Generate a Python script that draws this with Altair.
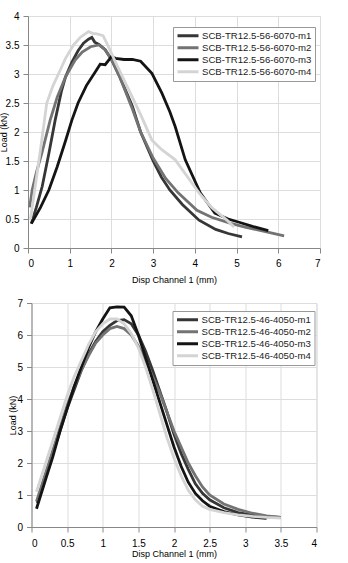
import altair as alt
import pandas as pd

# ---------- top panel (SCB-TR12.5-56-6070) ----------
top_names = ["SCB-TR12.5-56-6070-m1", "SCB-TR12.5-56-6070-m2",
             "SCB-TR12.5-56-6070-m3", "SCB-TR12.5-56-6070-m4"]
t1_x = [0.08, 0.2, 0.34, 0.5, 0.65, 0.8, 0.9, 1.05, 1.2, 1.33, 1.45, 1.53, 1.6, 1.7, 1.85,
        2.0, 2.2, 2.5, 2.7, 3.0, 3.2, 3.4, 3.7, 4.1, 4.5, 4.8, 5.13]
t1_y = [0.42, 0.7, 1.06, 1.63, 2.2, 2.7, 2.95, 3.2, 3.4, 3.53, 3.6, 3.63, 3.55, 3.51, 3.42,
        3.25, 2.95, 2.45, 2.0, 1.5, 1.22, 1.0, 0.75, 0.48, 0.32, 0.25, 0.19]
t2_x = [0.04, 0.1, 0.2, 0.33, 0.53, 0.7, 0.9, 1.13, 1.3, 1.5, 1.7, 1.85, 2.0, 2.2, 2.5, 2.7,
        3.0, 3.3, 3.6, 4.05, 4.4, 4.84, 5.2, 5.64, 6.14]
t2_y = [0.7, 1.0, 1.3, 1.63, 2.2, 2.6, 2.95, 3.24, 3.38, 3.47, 3.5, 3.42, 3.25, 2.95, 2.4, 2.0,
        1.55, 1.2, 0.95, 0.65, 0.53, 0.43, 0.36, 0.29, 0.21]
t3_x = [0.08, 0.3, 0.5, 0.7, 0.9, 1.05, 1.2, 1.4, 1.6, 1.73, 1.85, 2.0, 2.1, 2.3, 2.5, 2.7,
        2.97, 3.21, 3.4, 3.53, 3.77, 4.13, 4.48, 4.8, 5.08, 5.4, 5.76]
t3_y = [0.42, 0.7, 1.0, 1.4, 1.85, 2.2, 2.5, 2.8, 3.02, 3.17, 3.16, 3.3, 3.27, 3.25, 3.25, 3.22,
        3.01, 2.67, 2.35, 2.09, 1.52, 0.95, 0.6, 0.5, 0.44, 0.37, 0.3]
t4_x = [0.06, 0.2, 0.3, 0.45, 0.6, 0.73, 0.9, 1.09, 1.25, 1.45, 1.55, 1.65, 1.8, 1.93, 2.1,
        2.3, 2.5, 2.7, 2.97, 3.2, 3.53, 3.8, 4.1, 4.4, 4.77, 4.94]
t4_y = [0.5, 1.2, 1.7, 2.5, 2.8, 3.0, 3.27, 3.5, 3.63, 3.73, 3.7, 3.69, 3.66, 3.47, 3.2,
        2.9, 2.6, 2.3, 1.86, 1.7, 1.52, 1.25, 0.95, 0.7, 0.48, 0.36]

# ---------- bottom panel (SCB-TR12.5-46-4050) ----------
bot_names = ["SCB-TR12.5-46-4050-m1", "SCB-TR12.5-46-4050-m2",
             "SCB-TR12.5-46-4050-m3", "SCB-TR12.5-46-4050-m4"]
b1_x = [0.08, 0.2, 0.3, 0.4, 0.5, 0.6, 0.7, 0.8, 0.9, 1.0, 1.1, 1.2, 1.3, 1.4, 1.5, 1.6, 1.7,
        1.8, 1.9, 2.0, 2.1, 2.2, 2.3, 2.4, 2.5, 2.7, 2.9, 3.1, 3.3, 3.5]
b1_y = [0.75, 1.6, 2.3, 3.0, 3.7, 4.3, 4.9, 5.4, 5.8, 6.1, 6.3, 6.45, 6.48, 6.35, 6.0, 5.5, 4.9,
        4.25, 3.6, 2.9, 2.3, 1.8, 1.35, 1.05, 0.85, 0.6, 0.45, 0.37, 0.32, 0.3]
b2_x = [0.07, 0.2, 0.3, 0.4, 0.5, 0.6, 0.7, 0.8, 0.9, 1.0, 1.1, 1.2, 1.3, 1.4, 1.5, 1.6, 1.7,
        1.8, 1.9, 2.0, 2.1, 2.2, 2.3, 2.4, 2.5, 2.7, 2.9, 3.1, 3.3, 3.5]
b2_y = [0.8, 1.7, 2.4, 3.1, 3.8, 4.4, 4.9, 5.35, 5.75, 6.0, 6.2, 6.27, 6.2, 6.0, 5.65, 5.2, 4.7,
        4.2, 3.6, 3.0, 2.5, 2.0, 1.6, 1.25, 1.0, 0.72, 0.55, 0.43, 0.35, 0.3]
b3_x = [0.07, 0.2, 0.3, 0.4, 0.5, 0.6, 0.7, 0.8, 0.9, 1.0, 1.1, 1.2, 1.3, 1.4, 1.5, 1.6, 1.7,
        1.8, 1.9, 2.0, 2.1, 2.2, 2.3, 2.4, 2.5, 2.7, 2.9, 3.1, 3.3]
b3_y = [0.57, 1.5, 2.2, 3.0, 3.7, 4.4, 5.0, 5.6, 6.1, 6.5, 6.85, 6.88, 6.87, 6.6, 6.0, 5.3, 4.6,
        3.9, 3.2, 2.5, 1.9, 1.4, 1.05, 0.82, 0.65, 0.48, 0.38, 0.31, 0.27]
b4_x = [0.07, 0.2, 0.3, 0.4, 0.5, 0.6, 0.7, 0.8, 0.9, 1.0, 1.1, 1.2, 1.3, 1.4, 1.5, 1.6, 1.7,
        1.8, 1.9, 2.0, 2.1, 2.2, 2.3, 2.4, 2.5, 2.7, 2.9, 3.1, 3.3, 3.5]
b4_y = [1.1, 2.0, 2.7, 3.4, 4.1, 4.7, 5.2, 5.7, 6.1, 6.35, 6.5, 6.5, 6.35, 6.05, 5.6, 5.0, 4.3,
        3.55, 2.8, 2.15, 1.6, 1.15, 0.85, 0.65, 0.55, 0.45, 0.38, 0.33, 0.3, 0.28]

colors = ["#363636", "#737373", "#141414", "#d4d4d4"]
FONT = "Liberation Sans"


def frame(names, xs, ys):
    rows = []
    for n, xv, yv in zip(names, xs, ys):
        for i, (a, b) in enumerate(zip(xv, yv)):
            rows.append({"series": n, "x": a, "y": b, "i": i})
    return pd.DataFrame(rows)


def panel(df, names, xmax, xstep, ymax, ystep, w, h, lx, ly, xlp, xtp, ymin_ext, ytp):
    xt = [round(k * xstep, 3) for k in range(int(round(xmax / xstep)) + 1)]
    yt = [round(k * ystep, 3) for k in range(int(round(ymax / ystep)) + 1)]
    return alt.Chart(df).mark_line(strokeWidth=2.8).encode(
        x=alt.X("x:Q", scale=alt.Scale(domain=[0, xmax], nice=False),
                axis=alt.Axis(values=xt, format="~g", title="Disp Channel 1 (mm)",
                              labelPadding=xlp, titlePadding=xtp, minExtent=0,
                              titleFontWeight=400, titleFontSize=9)),
        y=alt.Y("y:Q", scale=alt.Scale(domain=[0, ymax], nice=False),
                axis=alt.Axis(values=yt, format="~g", title="Load (kN)",
                              labelPadding=4, titlePadding=ytp, minExtent=ymin_ext,
                              maxExtent=ymin_ext,
                              titleFontWeight=400, titleFontSize=9)),
        color=alt.Color("series:N", scale=alt.Scale(domain=names, range=colors),
                        legend=alt.Legend(title=None, orient="none", legendX=lx, legendY=ly,
                                          fillColor="white", strokeColor="#999",
                                          padding=3, symbolType="stroke", symbolSize=441,
                                          symbolStrokeWidth=3, labelFontSize=9.6,
                                          labelFont=FONT, labelColor="#222",
                                          clipHeight=11.5, rowPadding=0, labelOffset=2)),
        order="i:Q",
    ).properties(width=w, height=h)


top = panel(frame(top_names, [t1_x, t2_x, t3_x, t4_x], [t1_y, t2_y, t3_y, t4_y]),
            top_names, 7, 1, 4, 0.5, 292, 232, 145, 11, 5, 7, 18, 2)
bot = panel(frame(bot_names, [b1_x, b2_x, b3_x, b4_x], [b1_y, b2_y, b3_y, b4_y]),
            bot_names, 4, 0.5, 7, 1, 285, 224, 141, 8, 6, 1, 13, 1)

chart = alt.vconcat(top, bot, spacing=55, bounds="flush", center=True).resolve_scale(
    color="independent"
).resolve_legend(color="independent").properties(
    padding={"left": -2, "top": 10, "right": 5, "bottom": 0}
).configure_view(stroke="#9a9a9a", strokeWidth=1).configure_axis(
    grid=True, gridColor="#e3e3e3", gridWidth=1, domainColor="#9a9a9a", tickSize=0,
    labelFont=FONT, labelFontSize=10, labelColor="#333",
    titleFont=FONT, titleFontSize=9, titleColor="#444", titleFontWeight=400,
).configure(background="white")

chart.save("out.html", embed_options={"renderer": "svg", "actions": False})
